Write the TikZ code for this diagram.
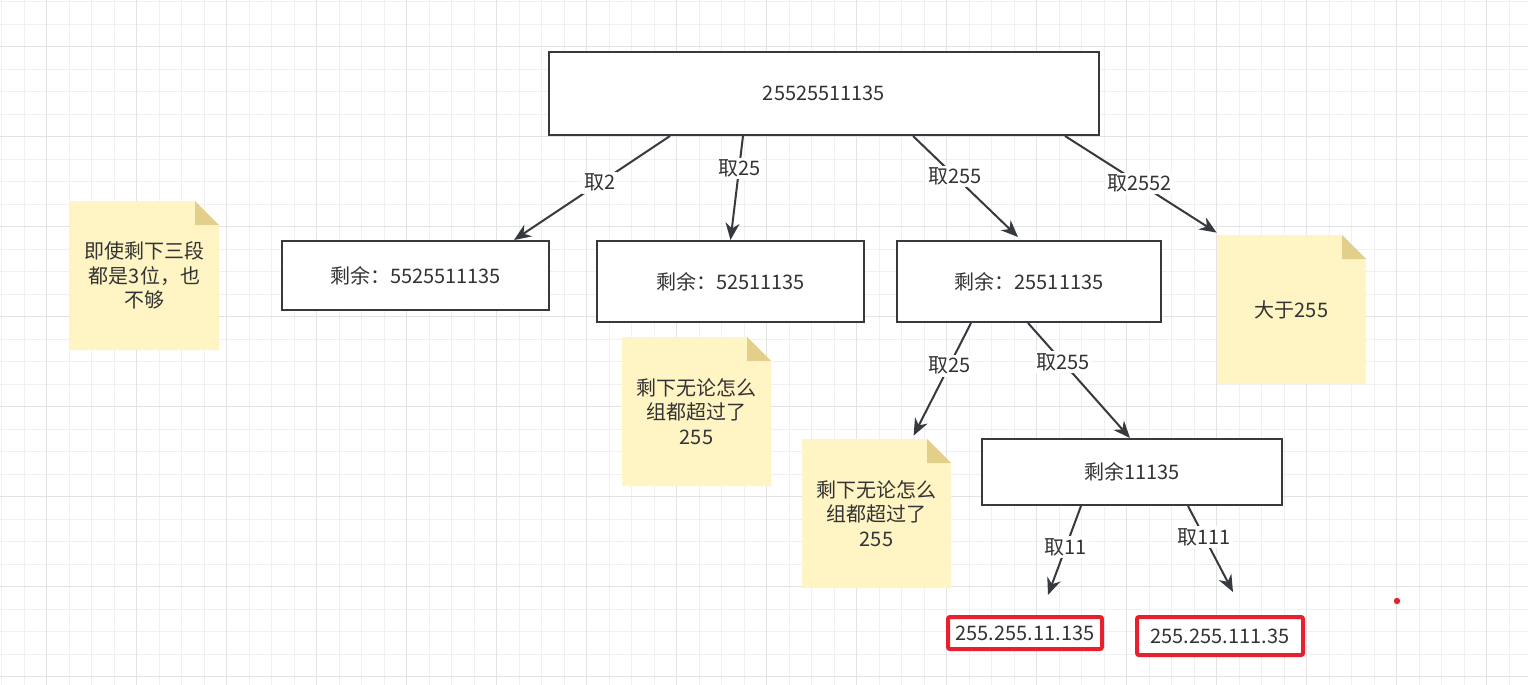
\documentclass[tikz,border=0pt]{standalone}
\usepackage{fontspec}
\setmainfont{Noto Sans CJK SC}
\usetikzlibrary{arrows.meta,calc}
\definecolor{gridmin}{HTML}{F0F0F0}
\definecolor{gridmaj}{HTML}{E3E3E3}
\definecolor{linec}{HTML}{36393D}
\definecolor{txt}{HTML}{333333}
\definecolor{notey}{HTML}{FFF4C3}
\definecolor{notefold}{HTML}{E3CF8C}
\definecolor{redc}{HTML}{E8202E}
\tikzset{
	box/.style={draw=linec,line width=1pt,fill=white,text=txt},
	resultbox/.style={draw=redc,line width=2pt,fill=white,text=txt,inner sep=1pt,rounded corners=1pt},
	note/.style={rectangle,text=txt,align=center,minimum width=74.5pt,minimum height=74.5pt,
		path picture={
			\fill[notey] (path picture bounding box.south west) -- (path picture bounding box.north west)
				-- ([xshift=-12pt]path picture bounding box.north east)
				-- ([yshift=-12pt]path picture bounding box.north east)
				-- (path picture bounding box.south east) -- cycle;
			\fill[notefold] ([xshift=-12pt]path picture bounding box.north east)
				-- ++(0,-12pt) -- ++(12pt,0) -- cycle;}},
	arr/.style={draw=linec,line width=1pt,-{Stealth[length=8.5pt,width=7pt]}},
	lbl/.style={fill=white,text=txt,inner sep=1pt}
}
\begin{document}
\begin{tikzpicture}[x=0.5pt,y=-0.5pt,font=\fontsize{10pt}{12.25pt}\selectfont]
	\useasboundingbox[fill=white] (0,0) rectangle (1528,685);
	% grid
	\foreach \i in {0,...,68}
		\draw[gridmin,line width=0.5pt] ({1.7+22.5*\i},0) -- ({1.7+22.5*\i},685);
	\foreach \j in {0,...,30}
		\draw[gridmin,line width=0.5pt] (0,{1.7+22.5*\j}) -- (1528,{1.7+22.5*\j});
	\foreach \i in {0,...,16}
		\draw[gridmaj,line width=0.5pt] ({46.7+90*\i},0) -- ({46.7+90*\i},685);
	\foreach \j in {0,...,7}
		\draw[gridmaj,line width=0.5pt] (0,{46.7+90*\j}) -- (1528,{46.7+90*\j});

	\node[box,minimum width=275pt,minimum height=41.5pt] (root) at (824,93.5) {25525511135};
	\node[box,minimum width=133.5pt,minimum height=34.5pt] (rest1) at (415.5,275.5) {剩余：5525511135};
	\node[box,minimum width=133.5pt,minimum height=40.5pt] (rest2) at (730.5,281.5) {剩余：52511135};
	\node[box,minimum width=132pt,minimum height=40.5pt] (rest3) at (1029,281.5) {剩余：25511135};
	\node[box,minimum width=150pt,minimum height=33pt] (rest4) at (1132,472) {剩余11135};
	\node[resultbox,minimum width=77pt,minimum height=16pt] (ip1) at (1025,633) {255.255.11.135};
	\node[resultbox,minimum width=83pt,minimum height=19pt] (ip2) at (1220,636) {255.255.111.35};

	\node[note] (note1) at (144.5,275.5) {即使剩下三段\\都是3位，也\\不够};
	\node[note] (note2) at (696.5,411.5) {剩下无论怎么\\组都超过了\\255};
	\node[note] (note3) at (876.5,513.5) {剩下无论怎么\\组都超过了\\255};
	\node[note] (note4) at (1291.5,309.5) {大于255};

	\draw[arr] ($(root.south west)+(122,0)$) -- node[lbl,pos=.45]{取2} ($(rest1.north east)+(-36,0)$);
	\draw[arr] ($(root.south west)+(195,0)$) -- node[lbl,pos=.31]{取25} (rest2.north);
	\draw[arr] ($(root.south west)+(365,0)$) -- node[lbl,pos=.4]{取255} ($(rest3.north west)+(122,-3)$);
	\draw[arr] ($(root.south west)+(517,0)$) -- node[lbl,pos=.49]{取2552} ($(note4.north west)+(0,-2)$);
	\draw[arr] ($(rest3.south west)+(75,0)$) -- node[lbl,pos=.38]{取25} ($(note3.north west)+(112,-3)$);
	\draw[arr] ($(rest3.south west)+(132,0)$) -- node[lbl,pos=.34]{取255} ($(rest4.north west)+(149,0)$);
	\draw[arr] ($(rest4.south west)+(100,0)$) -- node[lbl,pos=.46]{取11} ($(ip1.north)+(23,-20)$);
	\draw[arr] ($(rest4.south west)+(207,0)$) -- node[lbl,pos=.36]{取111} ($(ip2.north)+(13,-23)$);

	\fill[redc] (1397,601) circle (1.6pt);
\end{tikzpicture}
\end{document}
